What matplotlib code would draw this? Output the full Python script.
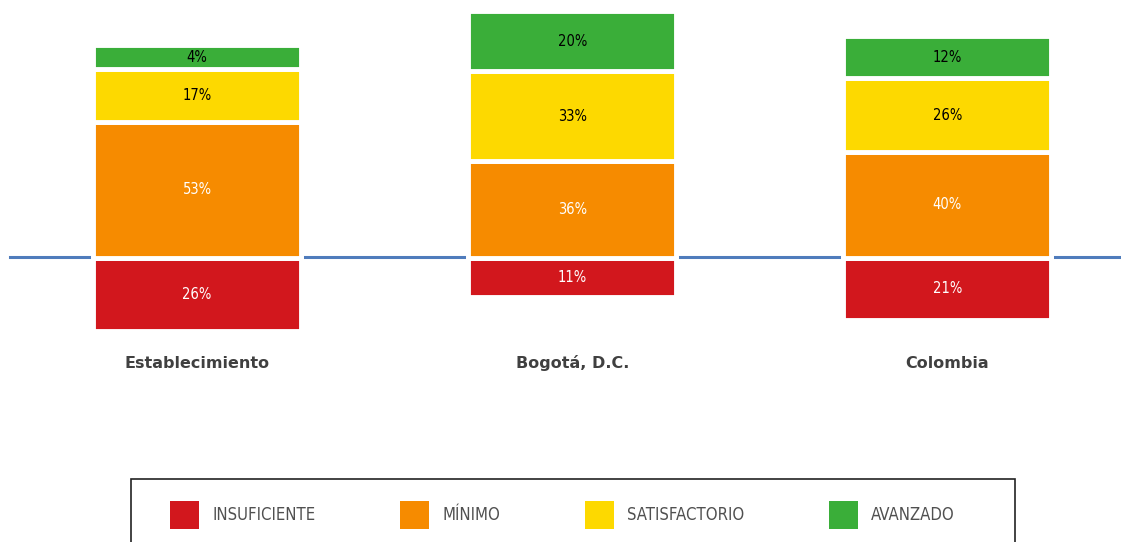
import matplotlib.pyplot as plt
from matplotlib.patches import Patch, Rectangle

# data
categories = ["Establecimiento", "Bogotá, D.C.", "Colombia"]
insuficiente = [26, 11, 21]
minimo = [53, 36, 40]
satisfactorio = [17, 33, 26]
avanzado = [4, 20, 12]
levels = ["INSUFICIENTE", "MÍNIMO", "SATISFACTORIO", "AVANZADO"]

colors = ["#d2171d", "#f68b00", "#fdd900", "#3aae39"]
text_colors = ["white", "white", "black", "black"]

W, H = 1121, 542
fig = plt.figure(figsize=(W / 100, H / 100), dpi=100)
ax = fig.add_axes([0, 0, 1, 1])
ax.axis("off")

# pixel geometry: bar centres every 375 px starting at 197.5, baseline at y=257.5
px_per_unit = 375
px_per_pct = 2.27
pad = 6.5  # every segment gets a fixed extra height, as in the original
base = 257.5
ax.set_xlim(-197 / px_per_unit, 2 + (W - 947.5) / px_per_unit)
ax.set_ylim(-(H - base) / px_per_pct, base / px_per_pct)

ax.axhline(0.5 / px_per_pct, xmin=10 / W, xmax=1, color="#4f7cbc", lw=2.2, zorder=1)

x = list(range(len(categories)))
bw = 208 / px_per_unit
lw = 3.5
lab = dict(family="DejaVu Sans", fontstretch="condensed", fontsize=10.5)

# insuficiente goes below the line, the rest stacks above
ax.bar(x, [-(v + pad) for v in insuficiente], width=bw, color=colors[0],
       edgecolor="white", lw=lw, zorder=2)
for i, v in enumerate(insuficiente):
    ax.text(x[i], -(v + pad) / 2, f"{v}%", ha="center", va="center",
            color="white", zorder=3, **lab)

bottom = [0, 0, 0]
for vals, c, tc in zip([minimo, satisfactorio, avanzado], colors[1:], text_colors[1:]):
    hts = [v + pad for v in vals]
    ax.bar(x, hts, width=bw, bottom=bottom, color=c, edgecolor="white", lw=lw, zorder=2)
    for i, v in enumerate(vals):
        ax.text(x[i], bottom[i] + hts[i] / 2, f"{v}%", ha="center", va="center",
                color=tc, zorder=3, **lab)
    bottom = [b + h for b, h in zip(bottom, hts)]

for i, cat in enumerate(categories):
    ax.text(x[i], -(363 - base) / px_per_pct, cat, ha="center", va="center",
            fontsize=11.5, fontweight="bold", color="#404040")

# legend box (runs off the bottom of the image)
fig.patches.append(Rectangle((131 / W, -0.2), (1015 - 131) / W, 1.2 - 479 / H,
                             transform=fig.transFigure, fill=False,
                             edgecolor="#222222", lw=1.2))
handles = [Patch(facecolor=c, edgecolor="none") for c in colors]
fs = 12
fs_px = fs * 100 / 72
fig.legend(handles, levels, loc="center left", bbox_to_anchor=(170 / W, 1 - 515 / H),
           bbox_transform=fig.transFigure, ncol=4, frameon=False,
           borderpad=0, borderaxespad=0,
           handlelength=29 / fs_px, handleheight=29 / fs_px * 1.3,
           handletextpad=13 / fs_px, columnspacing=85 / fs_px,
           prop={"family": "DejaVu Sans", "stretch": "condensed", "size": fs},
           labelcolor="#505050")

fig.savefig("out.png", dpi=100)
